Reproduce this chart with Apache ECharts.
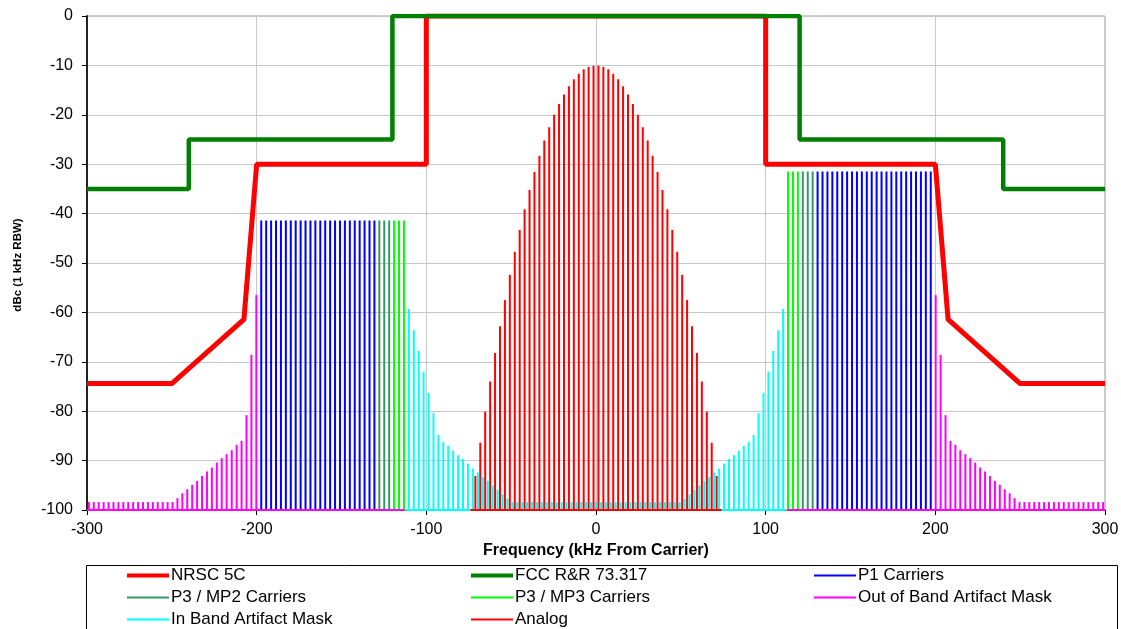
<!DOCTYPE html>
<html>
<head>
<meta charset="utf-8">
<script src="https://cdn.jsdelivr.net/npm/echarts@6/dist/echarts.min.js"></script>
<style>
html,body{margin:0;padding:0;background:#fff;}
#chart{width:1121px;height:629px;}
</style>
</head>
<body>
<div id="chart"></div>
<script>
// ---------------- DATA (kHz from carrier, dBc) ----------------
// Masks
const nrscFreq  = [-300, -250, -207.5, -200, -100, -100, 100, 100, 200, 207.5, 250, 300];
const nrscLevel = [-74.4, -74.4, -61.4, -30, -30, 0, 0, -30, -30, -61.4, -74.4, -74.4];
const fccFreq   = [-300, -240, -240, -120, -120, 120, 120, 240, 240, 300];
const fccLevel  = [-35, -35, -25, -25, 0, 0, -25, -25, -35, -35];

// Analog spectral lines (upper half; lower half is the mirror image)
const analogFreq  = [1.45, 4.35, 7.26, 10.16, 13.06, 15.96, 18.86, 21.77, 24.67, 27.57, 30.47, 33.37, 36.28,
                     39.18, 42.08, 44.98, 47.88, 50.79, 53.69, 56.59, 59.49, 62.39, 65.30, 68.20, 71.10];
const analogLevel = [-10.05, -10.3, -10.8, -11.7, -12.8, -14.2, -15.9, -17.8, -20.0, -22.5, -25.2, -28.3, -31.6,
                     -35.2, -39.1, -43.3, -47.7, -52.4, -57.5, -62.8, -68.2, -74.0, -80.1, -86.4, -93.1];

// In band artifact mask (upper half incl. centre; mirrored)
const inBandFreq  = [0, 2.9, 5.8, 8.7, 11.6, 14.5, 17.4, 20.3, 23.2, 26.1, 29.0, 31.9, 34.8, 37.7, 40.6, 43.5,
                     46.4, 49.3, 52.2, 55.1, 58.0, 60.9, 63.8, 66.7, 69.6, 72.6, 75.5, 78.4, 81.3, 84.2, 87.1,
                     90.0, 92.9, 95.8, 98.7, 101.6, 104.5, 107.4, 110.3];
const inBandLevel = [-98.4, -98.4, -98.4, -98.4, -98.4, -98.4, -98.4, -98.4, -98.4, -98.4, -98.4, -98.4, -98.4,
                     -98.4, -98.4, -98.4, -98.4, -98.4, -97.7, -96.8, -95.9, -95.0, -94.1, -93.3, -92.4, -91.6,
                     -90.6, -89.7, -88.9, -88.0, -87.0, -86.2, -84.8, -80.4, -76.3, -72.0, -67.8, -63.6, -59.3];

// Out of band artifact mask (upper; mirrored)
const outBandFreq  = [200.2, 203.1, 206.0, 208.9, 211.8, 214.7, 217.7, 220.6, 223.5, 226.4, 229.3, 232.2, 235.1,
                      238.0, 240.9, 243.8, 246.7, 249.6, 252.5, 255.4, 258.3, 261.2, 264.1, 267.0, 269.9, 272.8,
                      275.7, 278.6, 281.5, 284.4, 287.3, 290.2, 293.1, 296.0, 298.9];
const outBandLevel = [-56.5, -68.6, -80.8, -86.0, -86.8, -87.9, -88.7, -89.5, -90.4, -91.4, -92.2, -93.1, -94.1,
                      -94.9, -95.8, -96.6, -97.6, -98.4, -98.4, -98.4, -98.4, -98.4, -98.4, -98.4, -98.4, -98.4,
                      -98.4, -98.4, -98.4, -98.4, -98.4, -98.4, -98.4, -98.4, -98.4];

// Digital carriers (upper sideband offsets; lower sideband at the same negative offsets)
const p3mp3Freq = [113.2, 116.1, 119.0];
const p3mp2Freq = [121.9, 124.8, 127.7];
const p1Freq    = [130.6, 133.5, 136.4, 139.3, 142.2, 145.1, 148.0, 150.9, 153.8, 156.7, 159.6, 162.5,
                   165.4, 168.3, 171.2, 174.1, 177.0, 179.9, 182.8, 185.7, 188.6, 191.5, 194.4, 197.3];
const carrierLevelUpper = -31.5;
const carrierLevelLower = -41.4;

// Baseline spans drawn along the floor for each artifact/analog series
const outBandBaseLower = [-300, -113];
const outBandBaseUpper = [113, 300];
const inBandBase = [-111.7, 111.7];
const analogBase = [-74, 74];

const yTicks = {min: -100, max: 0, step: 10};
const xTicks = {min: -300, max: 300, step: 100};

// ---------------- BUILD ----------------
function symPairs(freqs, levels) {
  const up = freqs.map((f, i) => [f, levels[i]]);
  const low = freqs.map((f, i) => [-f, levels[i]]).filter((p, i) => freqs[i] !== 0);
  return low.reverse().concat(up);
}
function carrierPairs(freqs) {
  return freqs.map(f => [-f, carrierLevelLower]).reverse().concat(freqs.map(f => [f, carrierLevelUpper]));
}
function pairs(xs, ys) { return xs.map((x, i) => [x, ys[i]]); }

const FLOOR = yTicks.min;
function stem(params, api) {
  const x = api.value(0);
  const top = api.coord([x, api.value(1)]);
  const base = api.coord([x, FLOOR]);
  return {
    type: 'line',
    shape: {x1: top[0], y1: top[1], x2: base[0], y2: base[1]},
    style: {stroke: api.visual('color'), lineWidth: 2}
  };
}
function stemSeries(name, color, data) {
  return {
    type: 'custom', name: name, renderItem: stem, data: data,
    itemStyle: {color: color}, color: color,
    encode: {x: 0, y: 1}, animation: false, silent: true
  };
}
function baseSeries(span, color) {
  return {
    type: 'line', name: '_base', data: [[span[0], FLOOR], [span[1], FLOOR]],
    symbol: 'none', clip: false, silent: true, animation: false,
    lineStyle: {color: color, width: 2}
  };
}

const C = {
  nrsc: '#FF0000', fcc: '#008000', p1: '#0000FF', mp2: '#339966', mp3: '#00FF00',
  oob: '#FF00FF', inb: '#00FFFF', analog: '#FF0000'
};

const FONT = '"Liberation Sans", Arial, sans-serif';
const thin = 'path://M0,0M42,14M0,6H42V8H0Z';
const thick = 'path://M0,0M42,14M0,5H42V9H0Z';
function legendCol(left, items) {
  return {
    left: left, top: 567, orient: 'vertical', itemWidth: 42, itemHeight: 14, itemGap: 5,
    selectedMode: false, padding: 0,
    textStyle: {fontFamily: FONT, fontSize: 17, color: '#000', padding: [0, 0, 0, -3]},
    data: items
  };
}

const option = {
  backgroundColor: '#fff',
  animation: false,
  grid: {left: 87, right: 16, top: 16, bottom: 119, containLabel: false, outerBoundsMode: 'none',
         show: true, borderColor: '#999', borderWidth: 1},
  xAxis: {
    type: 'value', min: xTicks.min, max: xTicks.max, interval: xTicks.step,
    name: 'Frequency (kHz From Carrier)', nameLocation: 'middle', nameGap: 30,
    nameTextStyle: {fontFamily: FONT, fontSize: 16, fontWeight: 'bold', color: '#000'},
    axisLine: {show: true, onZero: false, lineStyle: {color: '#808080', width: 1}},
    axisTick: {show: true, inside: false, length: 5, lineStyle: {color: '#000'}},
    axisLabel: {fontFamily: FONT, fontSize: 16, color: '#000', margin: 12},
    splitLine: {show: true, lineStyle: {color: '#c8c8c8', width: 1}}
  },
  yAxis: {
    type: 'value', min: yTicks.min, max: yTicks.max, interval: yTicks.step,
    axisLine: {show: true, onZero: false, lineStyle: {color: '#222', width: 2}},
    axisTick: {show: true, inside: false, length: 5, lineStyle: {color: '#000'}},
    axisLabel: {fontFamily: FONT, fontSize: 16, color: '#000', margin: 14},
    splitLine: {show: true, lineStyle: {color: '#c8c8c8', width: 1}}
  },
  legend: [
    legendCol(127, [
      {name: 'NRSC 5C', icon: thick, itemStyle: {color: C.nrsc}},
      {name: 'P3 / MP2 Carriers', icon: thin, itemStyle: {color: C.mp2}},
      {name: 'In Band Artifact Mask', icon: thin, itemStyle: {color: C.inb}}
    ]),
    legendCol(471, [
      {name: 'FCC R&R 73.317', icon: thick, itemStyle: {color: C.fcc}},
      {name: 'P3 / MP3 Carriers', icon: thin, itemStyle: {color: C.mp3}},
      {name: 'Analog', icon: thin, itemStyle: {color: C.analog}}
    ]),
    legendCol(814, [
      {name: 'P1 Carriers', icon: thin, itemStyle: {color: C.p1}},
      {name: 'Out of Band Artifact Mask', icon: thin, itemStyle: {color: C.oob}}
    ])
  ],
  graphic: [
    {type: 'rect', shape: {x: 86.5, y: 565.5, width: 1031, height: 80},
     style: {fill: 'none', stroke: '#000', lineWidth: 1}, z: -1, silent: true},
    {type: 'text', x: 18, y: 265, rotation: Math.PI / 2, silent: true,
     style: {text: 'dBc (1 kHz RBW)', fontFamily: FONT, fontSize: 11.5, fontWeight: 'bold', fill: '#000',
             align: 'center', verticalAlign: 'middle'}}
  ],
  series: [
    baseSeries(outBandBaseLower, C.oob),
    baseSeries(outBandBaseUpper, C.oob),
    baseSeries(inBandBase, C.inb),
    baseSeries(analogBase, C.analog),
    stemSeries('Out of Band Artifact Mask', C.oob, symPairs(outBandFreq, outBandLevel)),
    stemSeries('In Band Artifact Mask', C.inb, symPairs(inBandFreq, inBandLevel)),
    stemSeries('Analog', C.analog, symPairs(analogFreq, analogLevel)),
    stemSeries('P1 Carriers', C.p1, carrierPairs(p1Freq)),
    stemSeries('P3 / MP2 Carriers', C.mp2, carrierPairs(p3mp2Freq)),
    stemSeries('P3 / MP3 Carriers', C.mp3, carrierPairs(p3mp3Freq)),
    {type: 'line', name: 'NRSC 5C', data: pairs(nrscFreq, nrscLevel), symbol: 'none', color: C.nrsc,
     lineStyle: {color: C.nrsc, width: 5}, silent: true, animation: false},
    {type: 'line', name: 'FCC R&R 73.317', data: pairs(fccFreq, fccLevel), symbol: 'none', color: C.fcc,
     lineStyle: {color: C.fcc, width: 4.5}, silent: true, animation: false}
  ]
};

const chart = echarts.init(document.getElementById('chart'), null, {renderer: 'canvas'});
chart.setOption(option);
</script>
</body>
</html>
